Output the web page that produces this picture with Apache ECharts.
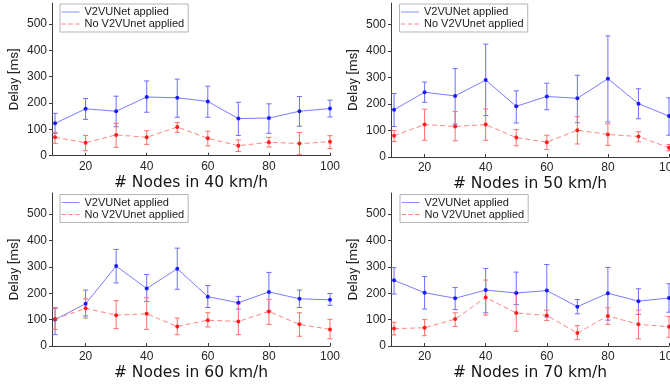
<!DOCTYPE html>
<html>
<head>
<meta charset="utf-8">
<script src="https://cdn.jsdelivr.net/npm/echarts@6/dist/echarts.min.js"></script>
<style>html,body{margin:0;padding:0;background:#fff;}#c{width:670px;height:385px;}</style>
</head>
<body>
<div id="c"></div>
<script>
// ---- data ----
const nodes = [10, 20, 30, 40, 50, 60, 70, 80, 90, 100];
const xTicks = [20, 40, 60, 80, 100];
const yTicks = [0, 100, 200, 300, 400, 500];
const speedTitles = ['# Nodes in 40 km/h', '# Nodes in 50 km/h', '# Nodes in 60 km/h', '# Nodes in 70 km/h'];
const nameA = 'V2VUNet applied';
const nameB = 'No V2VUnet applied';
const yName = 'Delay [ms]';

// 40 km/h
const a40 = [123, 178, 169, 223, 220, 206, 141, 143, 169, 179];
const a40Lo = [85, 138, 110, 165, 146, 146, 77, 85, 112, 147];
const a40Hi = [161, 217, 226, 284, 291, 264, 203, 197, 225, 211];
const b40 = [70, 49, 79, 70, 109, 66, 38, 51, 46, 53];
const b40Lo = [47, 19, 32, 43, 89, 37, 16, 33, 4, 27];
const b40Hi = [89, 77, 123, 95, 126, 93, 60, 70, 88, 76];
// 50 km/h
const a50 = [178, 244, 230, 290, 191, 228, 221, 295, 201, 154];
const a50Lo = [115, 206, 124, 156, 128, 178, 129, 132, 144, 82];
const a50Hi = [239, 282, 333, 425, 249, 278, 308, 456, 257, 223];
const b50 = [80, 122, 115, 122, 73, 56, 101, 85, 77, 35];
const b50Lo = [58, 63, 61, 63, 42, 28, 49, 44, 57, 23];
const b50Hi = [100, 180, 171, 181, 103, 82, 152, 125, 95, 47];
// 60 km/h
const a60 = [100, 160, 303, 218, 293, 187, 164, 205, 179, 175];
const a60Lo = [43, 114, 239, 169, 215, 146, 140, 133, 146, 154];
const a60Hi = [143, 212, 366, 271, 371, 229, 188, 279, 212, 199];
const b60 = [102, 143, 117, 122, 74, 98, 93, 131, 82, 63];
const b60Lo = [63, 106, 66, 63, 43, 72, 43, 82, 37, 27];
const b60Hi = [146, 179, 172, 183, 106, 126, 160, 177, 126, 101];
// 70 km/h
const a70 = [249, 202, 181, 212, 201, 210, 149, 200, 170, 182];
const a70Lo = [197, 140, 138, 126, 157, 110, 122, 98, 120, 128];
const a70Hi = [297, 263, 222, 294, 280, 309, 176, 298, 217, 236];
const b70 = [66, 69, 102, 184, 125, 116, 49, 114, 82, 73];
const b70Lo = [42, 39, 74, 117, 56, 97, 24, 82, 27, 33];
const b70Hi = [90, 100, 126, 250, 199, 136, 77, 145, 136, 112];

// ---- layout / style ----
const panels = [
  {mean: [a40, b40], lo: [a40Lo, b40Lo], hi: [a40Hi, b40Hi]},
  {mean: [a50, b50], lo: [a50Lo, b50Lo], hi: [a50Hi, b50Hi]},
  {mean: [a60, b60], lo: [a60Lo, b60Lo], hi: [a60Hi, b60Hi]},
  {mean: [a70, b70], lo: [a70Lo, b70Lo], hi: [a70Hi, b70Hi]}
];
const gridPos = [
  {left: 52, top: 3, width: 278, height: 152.7},
  {left: 391, top: 3, width: 278, height: 154},
  {left: 52, top: 193, width: 278, height: 153},
  {left: 391, top: 193, width: 278, height: 153}
];
const legendPos = [
  {left: 60, top: 4},
  {left: 399.5, top: 4},
  {left: 60, top: 194.5},
  {left: 400, top: 194.5}
];
const lineColors = ['#7c7cff', '#ff8585'];
const barColors = ['#6e6eff', '#ff6f6f'];
const markColors = ['#1a1aff', '#ff1f1f'];
const axisColor = '#3a3a3a';
const tickFont = 'Liberation Sans, Arial, sans-serif';
// legend sample glyphs: a solid line and a dashed line
const solidIcon = 'path://M0,0H21V1H0Z';
const dashIcon = 'path://M0,0H5V1H0Z M8,0H13V1H8Z M16,0H21V1H16Z';

function makeErr(color) {
  return function (params, api) {
    const x = api.value(0), lo = api.value(1), hi = api.value(2);
    const p1 = api.coord([x, hi]);
    const p2 = api.coord([x, lo]);
    const hw = 2.6;
    const st = {stroke: color, lineWidth: 1, fill: null};
    return {
      type: 'group',
      children: [
        {type: 'line', shape: {x1: p1[0], y1: p1[1], x2: p2[0], y2: p2[1]}, style: st},
        {type: 'line', shape: {x1: p1[0] - hw, y1: p1[1], x2: p1[0] + hw, y2: p1[1]}, style: st},
        {type: 'line', shape: {x1: p2[0] - hw, y1: p2[1], x2: p2[0] + hw, y2: p2[1]}, style: st}
      ]
    };
  };
}

const grid = [], xAxis = [], yAxis = [], series = [], legend = [];
panels.forEach((p, i) => {
  grid.push(Object.assign({containLabel: false, outerBoundsMode: 'none'}, gridPos[i]));
  xAxis.push({
    type: 'value', gridIndex: i, min: 9, max: 100,
    name: speedTitles[i], nameLocation: 'middle', nameGap: 19,
    nameTextStyle: {fontFamily: 'DejaVu Sans', fontSize: 15.5, color: '#151515'},
    axisLine: {show: true, lineStyle: {color: axisColor, width: 1}},
    axisTick: {show: true, customValues: xTicks, length: 3, inside: true, lineStyle: {color: axisColor}},
    axisLabel: {customValues: xTicks, fontFamily: tickFont, fontSize: 12, color: '#262626', margin: 5, hideOverlap: false},
    splitLine: {show: false}
  });
  yAxis.push({
    type: 'value', gridIndex: i, min: 0, max: 580,
    name: yName, nameLocation: 'middle', nameRotate: 90, nameGap: 30,
    nameTextStyle: {fontFamily: 'Roboto', fontSize: 13.5, color: '#222'},
    axisLine: {show: true, lineStyle: {color: axisColor, width: 1}},
    axisTick: {show: true, customValues: yTicks, length: 3, lineStyle: {color: axisColor}},
    axisLabel: {customValues: yTicks, fontFamily: tickFont, fontSize: 12, color: '#262626', margin: 5},
    splitLine: {show: false}
  });
  [0, 1].forEach(k => {
    const errData = nodes.map((x, j) => [x, p.lo[k][j], p.hi[k][j]]);
    series.push({
      type: 'custom', xAxisIndex: i, yAxisIndex: i, silent: true,
      renderItem: makeErr(barColors[k]),
      encode: {x: 0, y: [1, 2]},
      data: errData, z: 2
    });
  });
  [0, 1].forEach(k => {
    series.push({
      type: 'line', name: k === 0 ? nameA : nameB,
      xAxisIndex: i, yAxisIndex: i,
      data: nodes.map((x, j) => [x, p.mean[k][j]]),
      symbol: 'circle', symbolSize: 4, showSymbol: true,
      lineStyle: {color: lineColors[k], width: 1, type: k === 0 ? 'solid' : [5, 3]},
      itemStyle: {color: markColors[k]},
      z: 3
    });
  });
  legend.push({
    left: legendPos[i].left, top: legendPos[i].top, orient: 'vertical',
    data: [
      {name: nameA, icon: solidIcon, itemStyle: {color: lineColors[0], borderWidth: 0}},
      {name: nameB, icon: dashIcon, itemStyle: {color: lineColors[1], borderWidth: 0}}
    ],
    itemWidth: 18, itemHeight: 11, itemGap: 1, symbolKeepAspect: true,
    padding: [2.5, 4, 2.5, 1.5],
    borderColor: '#b5b5b5', borderWidth: 1, backgroundColor: '#fff',
    textStyle: {fontFamily: tickFont, fontSize: 11, color: '#1a1a1a'},
    selectedMode: false
  });
});

const chart = echarts.init(document.getElementById('c'), null, {renderer: 'canvas'});
chart.setOption({animation: false, backgroundColor: '#fff', grid, xAxis, yAxis, series, legend});
</script>
</body>
</html>
